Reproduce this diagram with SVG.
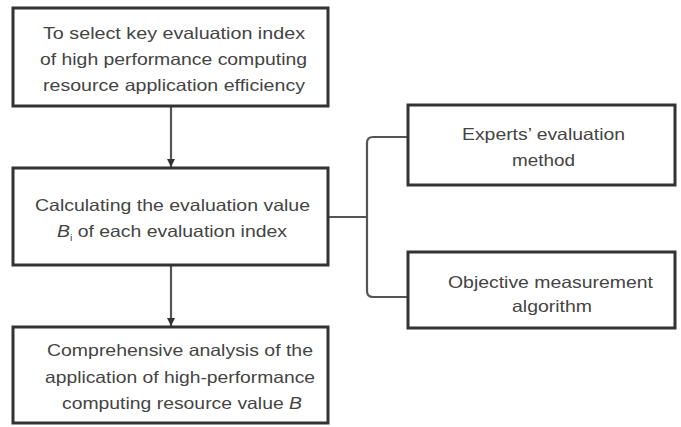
<svg xmlns="http://www.w3.org/2000/svg" width="681" height="427" viewBox="0 0 681 427">
<style>
.box{fill:#fff;stroke:#333;stroke-width:3}
.t{font-family:"Liberation Sans",Arial,sans-serif;font-size:16.5px;fill:#444}
.c{fill:none;stroke:#555;stroke-width:2.2}
</style>
<defs>
<marker id="ah" markerWidth="10" markerHeight="10" refX="8" refY="4" orient="auto" markerUnits="userSpaceOnUse">
<path d="M0,0 L8,4 L0,8 Z" fill="#333"/>
</marker>
</defs>
<rect width="681" height="427" fill="#fff"/>
<g id="connectors">
<line class="c" x1="171" y1="106" x2="171" y2="167" marker-end="url(#ah)"/>
<line class="c" x1="171" y1="265" x2="171" y2="326" marker-end="url(#ah)"/>
<line class="c" x1="328" y1="217" x2="367" y2="217"/>
<path class="c" d="M408,137 H373 Q367,137 367,143 V291 Q367,297 373,297 H408"/>
</g>
<g id="n1">
<rect class="box" x="13" y="8" width="315" height="98"/>
<text class="t" x="43" y="39" textLength="262" lengthAdjust="spacingAndGlyphs">To select key evaluation index</text>
<text class="t" x="40" y="65" textLength="267" lengthAdjust="spacingAndGlyphs">of high performance computing</text>
<text class="t" x="43" y="91" textLength="262" lengthAdjust="spacingAndGlyphs">resource application efficiency</text>
</g>
<g id="n2">
<rect class="box" x="13" y="168" width="315" height="97"/>
<text class="t" x="35" y="211" textLength="275" lengthAdjust="spacingAndGlyphs">Calculating the evaluation value</text>
<text class="t" x="57" y="237" textLength="230" lengthAdjust="spacingAndGlyphs"><tspan font-style="italic">B</tspan><tspan font-size="9" dy="4">i</tspan><tspan dy="-4"> of each evaluation index</tspan></text>
</g>
<g id="n3">
<rect class="box" x="408" y="105" width="267" height="80"/>
<text class="t" x="462" y="140" textLength="163" lengthAdjust="spacingAndGlyphs">Experts’ evaluation</text>
<text class="t" x="512" y="166" textLength="63" lengthAdjust="spacingAndGlyphs">method</text>
</g>
<g id="n4">
<rect class="box" x="408" y="252" width="267" height="76"/>
<text class="t" x="448" y="288" textLength="205" lengthAdjust="spacingAndGlyphs">Objective measurement</text>
<text class="t" x="512" y="312" textLength="80" lengthAdjust="spacingAndGlyphs">algorithm</text>
</g>
<g id="n5">
<rect class="box" x="13" y="327" width="315" height="96"/>
<text class="t" x="47" y="356" textLength="266" lengthAdjust="spacingAndGlyphs">Comprehensive analysis of the</text>
<text class="t" x="45" y="383" textLength="270" lengthAdjust="spacingAndGlyphs">application of high-performance</text>
<text class="t" x="62" y="409" textLength="240" lengthAdjust="spacingAndGlyphs">computing resource value <tspan font-style="italic">B</tspan></text>
</g>
</svg>
